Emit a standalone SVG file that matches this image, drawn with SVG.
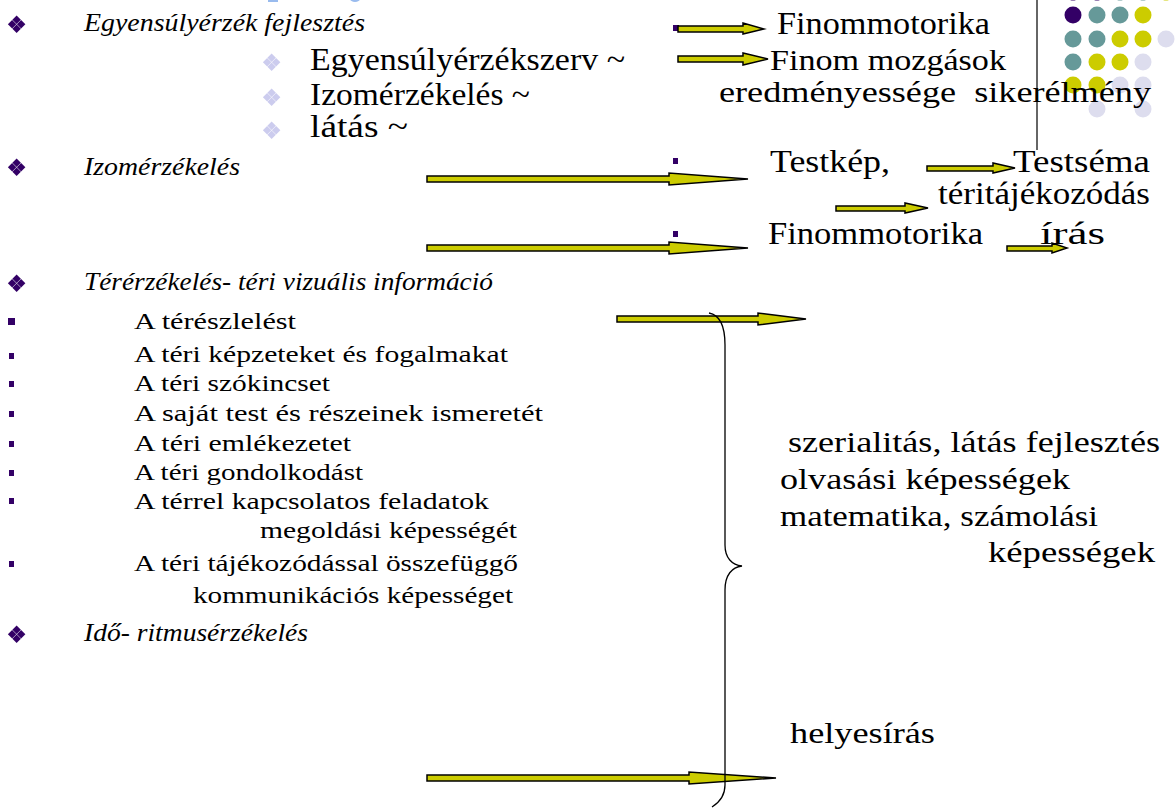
<svg xmlns="http://www.w3.org/2000/svg" width="1176" height="809" viewBox="0 0 1176 809">
<defs>
<style>
.bg{fill:#ffffff}
.it{font-family:"Liberation Serif",serif;font-style:italic;font-size:26px;fill:#000}
.sv{font-family:"Liberation Serif",serif;font-size:31px;fill:#000}
.sv2{font-family:"Liberation Serif",serif;font-size:29px;fill:#000}
.sm{font-family:"Liberation Serif",serif;font-size:23px;fill:#000}
.md{font-family:"Liberation Serif",serif;font-size:30px;fill:#000}
.arr{fill:#CCCC00;stroke:#000;stroke-width:1.5;stroke-linejoin:miter}
.pu{fill:#330066}
.te{fill:#669999}
.ye{fill:#CCCC00}
.la{fill:#DDDDEE}
.brace{fill:none;stroke:#000;stroke-width:1.3}
</style>
<g id="dia">
<rect x="-3" y="-7" width="6" height="6" transform="rotate(45 0 -4.5)"/>
<rect x="-3" y="2" width="6" height="6" transform="rotate(45 0 4.5)"/>
<rect x="-7.5" y="-2.5" width="6" height="6" transform="rotate(45 -4.5 0)"/>
<rect x="1.5" y="-2.5" width="6" height="6" transform="rotate(45 4.5 0)"/>
</g>
</defs>
<rect class="bg" x="0" y="0" width="1176" height="809"/>

<g id="decor">
<rect x="268" y="0" width="10" height="2" fill="#99BBEE"/>
<ellipse cx="355" cy="-1" rx="5" ry="3" fill="#99BBEE"/>
<line x1="1037" y1="0" x2="1037" y2="150" stroke="#333" stroke-width="1.5"/>
<circle class="pu" cx="1073" cy="-8" r="8.5"/><circle class="pu" cx="1097" cy="-8" r="8.5"/><circle class="te" cx="1120" cy="-8" r="8.5"/><circle class="te" cx="1143" cy="-8" r="8.5"/><circle class="ye" cx="1166" cy="-8" r="8.5"/>
<circle class="pu" cx="1073" cy="15" r="8.5"/><circle class="te" cx="1097" cy="15" r="8.5"/><circle class="te" cx="1120" cy="15" r="8.5"/><circle class="ye" cx="1143" cy="15" r="8.5"/>
<circle class="te" cx="1073" cy="39" r="8.5"/><circle class="te" cx="1097" cy="39" r="8.5"/><circle class="ye" cx="1120" cy="39" r="8.5"/><circle class="ye" cx="1143" cy="39" r="8.5"/><circle class="la" cx="1166" cy="39" r="8.5"/>
<circle class="te" cx="1073" cy="62" r="8.5"/><circle class="ye" cx="1097" cy="62" r="8.5"/><circle class="ye" cx="1120" cy="62" r="8.5"/><circle class="la" cx="1143" cy="62" r="8.5"/>
<circle class="ye" cx="1073" cy="85" r="8.5"/><circle class="ye" cx="1097" cy="85" r="8.5"/><circle class="la" cx="1120" cy="85" r="8.5"/><circle class="la" cx="1143" cy="85" r="8.5"/>
<circle class="la" cx="1097" cy="109" r="8.5"/><circle class="la" cx="1143" cy="109" r="8.5"/>
</g>

<g id="bullets">
<use href="#dia" x="17" y="24" fill="#330066"/>
<use href="#dia" x="17" y="167" fill="#330066"/>
<use href="#dia" x="17" y="283" fill="#330066"/>
<use href="#dia" x="17" y="634" fill="#330066"/>
<use href="#dia" x="272" y="62" fill="#CCCCEE"/>
<use href="#dia" x="272" y="97" fill="#CCCCEE"/>
<use href="#dia" x="272" y="130" fill="#CCCCEE"/>
<rect class="pu" x="673" y="25" width="6" height="6"/>
<rect class="pu" x="673" y="158" width="5" height="6"/>
<rect class="pu" x="673" y="231" width="5" height="6"/>
<rect class="pu" x="8" y="318" width="7" height="7"/>
<rect class="pu" x="9" y="353" width="5" height="6"/>
<rect class="pu" x="9" y="381" width="5" height="6"/>
<rect class="pu" x="9" y="411" width="5" height="6"/>
<rect class="pu" x="9" y="441" width="5" height="6"/>
<rect class="pu" x="9" y="470" width="5" height="6"/>
<rect class="pu" x="9" y="498" width="5" height="6"/>
<rect class="pu" x="9" y="561" width="5" height="6"/>
</g>

<g id="connectors">
<polygon class="arr" points="678,26 743,26 743,23 764,29 743,34 743,32 678,32"/>
<polygon class="arr" points="678,56 743,56 743,53 768,59 743,65 743,62 678,62"/>
<polygon class="arr" points="427,176 669,176 669,173 748,179 669,185 669,182 427,182"/>
<polygon class="arr" points="927,166 993,166 993,163 1015,168 993,173 993,171 927,171"/>
<polygon class="arr" points="836,206 905,206 905,203 928,208 905,213 905,211 836,211"/>
<polygon class="arr" points="427,245 669,245 669,242 748,248 669,254 669,251 427,251"/>
<polygon class="arr" points="1007,246 1052,246 1052,243 1067,248 1052,253 1052,251 1007,251"/>
<polygon class="arr" points="617,316 758,316 758,313 806,319 758,325 758,322 617,322"/>
<polygon class="arr" points="427,775 689,775 689,772 776,778 689,784 689,781 427,781"/>
<path class="brace" d="M 709 313 C 720 315, 725 325, 725 345 L 725 545 C 725 558, 732 565, 742 566 C 732 567, 725 575, 725 590 L 725 785 C 725 795, 720 802, 712 807"/>
</g>

<g id="n-egyensuly">
<text class="it" x="84" y="31" textLength="281" lengthAdjust="spacingAndGlyphs">Egyensúlyérzék fejlesztés</text>
<text class="sv" x="310" y="70" textLength="315" lengthAdjust="spacingAndGlyphs">Egyensúlyérzékszerv ~</text>
<text class="sv" x="310" y="105" textLength="220" lengthAdjust="spacingAndGlyphs">Izomérzékelés ~</text>
<text class="sv" x="310" y="137" textLength="98" lengthAdjust="spacingAndGlyphs">látás  ~</text>
</g>
<g id="n-finom1">
<text class="sv" x="777" y="34" textLength="213" lengthAdjust="spacingAndGlyphs">Finommotorika</text>
</g>
<g id="n-finom2">
<text class="sv2" x="770" y="70" textLength="236" lengthAdjust="spacingAndGlyphs">Finom mozgások</text>
<text class="sv2" x="719" y="102" textLength="432" lengthAdjust="spacingAndGlyphs" xml:space="preserve">eredményessége  sikerélmény</text>
</g>
<g id="n-izom">
<text class="it" x="84" y="175" textLength="156" lengthAdjust="spacingAndGlyphs">Izomérzékelés</text>
</g>
<g id="n-testkep">
<text class="sv" x="770" y="172" textLength="120" lengthAdjust="spacingAndGlyphs">Testkép,</text>
<text class="sv" x="1013" y="172" textLength="137" lengthAdjust="spacingAndGlyphs">Testséma</text>
<text class="sv" x="938" y="204" textLength="212" lengthAdjust="spacingAndGlyphs">téritájékozódás</text>
</g>
<g id="n-finom3">
<text class="sv" x="768" y="244" textLength="215" lengthAdjust="spacingAndGlyphs">Finommotorika</text>
<text class="sv" x="1040" y="244" textLength="65" lengthAdjust="spacingAndGlyphs">írás</text>
</g>
<g id="n-ter">
<text class="it" x="84" y="290" textLength="409" lengthAdjust="spacingAndGlyphs">Térérzékelés- téri vizuális információ</text>
<text class="sm" x="134" y="329" textLength="162" lengthAdjust="spacingAndGlyphs">A térészlelést</text>
<text class="sm" x="134" y="362" textLength="374" lengthAdjust="spacingAndGlyphs">A téri képzeteket és fogalmakat</text>
<text class="sm" x="134" y="391" textLength="196" lengthAdjust="spacingAndGlyphs">A téri szókincset</text>
<text class="sm" x="134" y="421" textLength="409" lengthAdjust="spacingAndGlyphs">A saját test és részeinek ismeretét</text>
<text class="sm" x="134" y="451" textLength="217" lengthAdjust="spacingAndGlyphs">A téri emlékezetet</text>
<text class="sm" x="134" y="480" textLength="229" lengthAdjust="spacingAndGlyphs">A téri gondolkodást</text>
<text class="sm" x="134" y="509" textLength="355" lengthAdjust="spacingAndGlyphs">A térrel kapcsolatos feladatok</text>
<text class="sm" x="260" y="538" textLength="257" lengthAdjust="spacingAndGlyphs">megoldási képességét</text>
<text class="sm" x="134" y="571" textLength="384" lengthAdjust="spacingAndGlyphs">A téri tájékozódással összefüggő</text>
<text class="sm" x="193" y="603" textLength="320" lengthAdjust="spacingAndGlyphs">kommunikációs képességet</text>
</g>
<g id="n-ido">
<text class="it" x="84" y="641" textLength="224" lengthAdjust="spacingAndGlyphs">Idő- ritmusérzékelés</text>
</g>
<g id="n-szerial">
<text class="md" x="788" y="452" textLength="372" lengthAdjust="spacingAndGlyphs">szerialitás, látás fejlesztés</text>
<text class="md" x="780" y="489" textLength="290" lengthAdjust="spacingAndGlyphs">olvasási képességek</text>
<text class="md" x="780" y="526" textLength="318" lengthAdjust="spacingAndGlyphs">matematika, számolási</text>
<text class="md" x="988" y="562" textLength="167" lengthAdjust="spacingAndGlyphs">képességek</text>
</g>
<g id="n-helyes">
<text class="md" x="790" y="743" textLength="145" lengthAdjust="spacingAndGlyphs">helyesírás</text>
</g>
</svg>
